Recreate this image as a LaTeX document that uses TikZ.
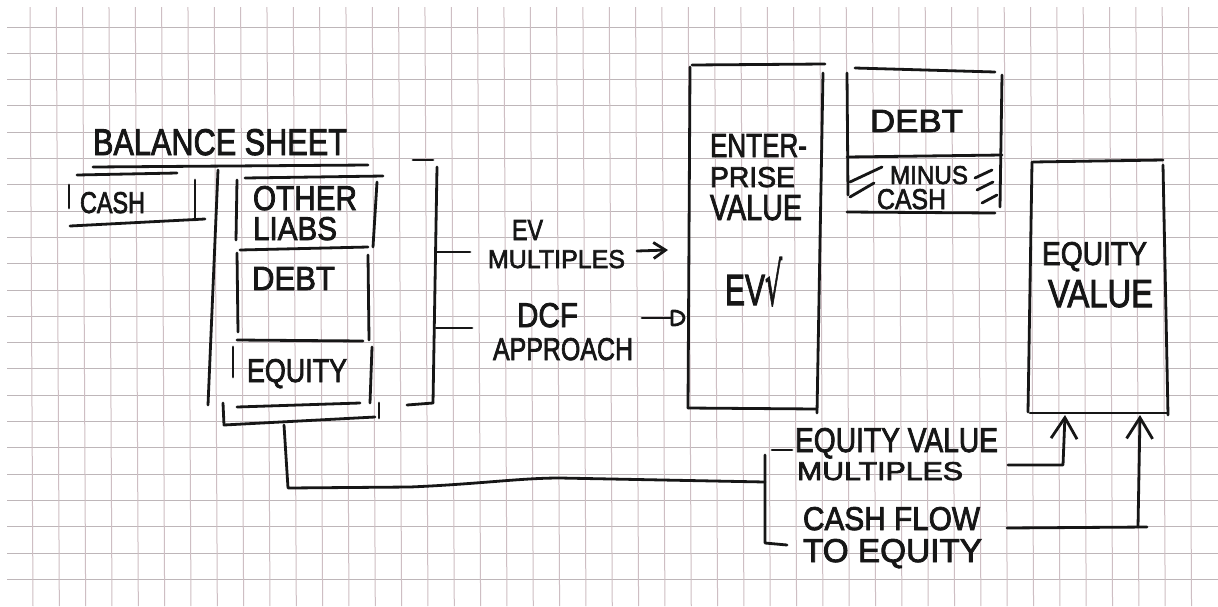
\documentclass[tikz,border=0pt]{standalone}
\usepackage{graphicx}
\usepackage{fontspec}
\setmainfont{Liberation Sans}[FakeBold=2.5]
\newfontfamily\dvsans{DejaVu Sans}[FakeBold=2]
\usetikzlibrary{arrows.meta}

% hand lettering: text squeezed into a box of given width and cap height
\newcommand\handtext[3]{\resizebox{#1pt}{#2pt}{#3}}

\definecolor{inkc}{RGB}{22,22,22}
\definecolor{hgridc}{RGB}{190,182,185}
\definecolor{vgridc}{RGB}{206,190,195}

\tikzset{
  ink/.style={draw=inkc, line width=2.8pt, line cap=round, line join=round},
  hgrid/.style={draw=hgridc, line width=1pt},
  vgrid/.style={draw=vgridc, line width=1pt},
  lbl/.style={inner sep=0pt, outer sep=0pt, anchor=north west, text=inkc},
  barb/.style={-{Straight Barb[length=12pt,width=16pt]}},
  upbarb/.style={-{Straight Barb[length=21pt,width=26pt]}},
}

\begin{document}
\begin{tikzpicture}[x=1pt, y=-1pt]
  \useasboundingbox (0,0) rectangle (1218,606);
  \fill[white] (0,0) rectangle (1218,606);

  % squared paper
  \foreach \k in {0,...,21}
    \draw[hgrid] (7,27+26.3*\k) -- (1218,27+26.3*\k);
  \foreach \k in {0,...,44}
    \draw[vgrid] (30+26.33*\k,7) -- (33+26.33*\k,606);

  % ---------------- balance sheet ----------------
  \node[lbl] (bs-title) at (93,129) {\handtext{254}{26}{BALANCE SHEET}};
  \draw[ink] (93,167) -- (368,165);

  % cash (asset side)
  \node[lbl] (bs-cash) at (80,192) {\handtext{65}{21}{CASH}};
  \draw[ink] (77,175) -- (177,173);
  \draw[ink] (69,185) -- (69,208);
  \draw[ink] (195,180) -- (195,220);
  \draw[ink] (70,226) -- (205,219);

  % liabilities column frame
  \draw[ink] (218,170) -- (208,405);
  \draw[ink] (223,403) -- (224,425) -- (375,417);
  \draw[ink] (379,403) -- (379,418);

  % other liabilities
  \node[lbl] (bs-other) at (253,186) {\handtext{104}{24}{OTHER}};
  \node[lbl] (bs-liabs) at (253,217) {\handtext{84}{23}{LIABS}};
  \draw[ink] (245,178) -- (383,176);
  \draw[ink] (237,180) -- (236,240);
  \draw[ink] (377,182) -- (373,247);
  \draw[ink] (240,250) -- (368,247);

  % debt
  \node[lbl] (bs-debt) at (252,267) {\handtext{83}{23}{DEBT}};
  \draw[ink] (237,253) -- (238,332);
  \draw[ink] (368,255) -- (369,340);
  \draw[ink] (237,340) -- (363,341);

  % equity
  \node[lbl] (bs-equity) at (247,359) {\handtext{100}{23}{EQUITY}};
  \draw[ink] (233,347) -- (233,377);
  \draw[ink] (372,347) -- (370,403);
  \draw[ink] (237,407) -- (360,403);

  % bracket grouping the financing side
  \draw[ink] (413,160) -- (433,160);
  \draw[ink] (437,167) -- (433,403);
  \draw[ink] (407,405) -- (433,403);
  \coordinate (br-top) at (437,252);
  \coordinate (br-bot) at (436,328);
  \coordinate (br-top-end) at (470,252);
  \coordinate (br-bot-end) at (472,328);
  \draw[ink] (br-top) -- (br-top-end);
  \draw[ink] (br-bot) -- (br-bot-end);

  % ---------------- methods towards EV ----------------
  \node[lbl] (m-ev) at (512,220) {\handtext{31}{20}{EV}};
  \node[lbl] (m-mult) at (488,250) {\handtext{137}{18}{MULTIPLES}};
  \node[lbl] (m-dcf) at (517,303) {\handtext{61}{24}{DCF}};
  \node[lbl] (m-appr) at (493,338) {\handtext{140}{22}{APPROACH}};

  \coordinate (mult-out) at (637,251);
  \coordinate (mult-in) at (668,250);
  \draw[ink, barb] (mult-out) -- (mult-in);

  \coordinate (dcf-out) at (642,318);
  \coordinate (dcf-in) at (672,318);
  \draw[ink] (dcf-out) -- (dcf-in);
  \draw[ink] (672,311) -- (672,325) .. controls (688,326) and (688,310) .. (672,311);

  % ---------------- enterprise value ----------------
  \draw[ink] (692,65) -- (825,64);
  \draw[ink] (690,67) -- (688,408);
  \draw[ink] (823,73) -- (817,413);
  \draw[ink] (688,408) -- (817,409);
  \node[lbl] (ev-l1) at (710,134) {\handtext{97}{23}{ENTER-}};
  \node[lbl] (ev-l2) at (710,167) {\handtext{85}{20}{PRISE}};
  \node[lbl] (ev-l3) at (710,195) {\handtext{92}{25}{VALUE}};
  \node[lbl] (ev-tick) at (725,257) {\handtext{40}{30}{EV}\handtext{17}{48}{\dvsans √}};

  % ---------------- debt minus cash ----------------
  \draw[ink] (855,68) -- (995,72);
  \draw[ink] (847,73) -- (848,195);
  \draw[ink] (1002,75) -- (1000,207);
  \draw[ink] (847,157) -- (1002,155);
  \draw[ink] (847,212) -- (995,213);
  \node[lbl] (nd-debt) at (870,110) {\handtext{93}{22}{DEBT}};
  \node[lbl] (nd-minus) at (890,166) {\handtext{78}{18}{MINUS}};
  \node[lbl] (nd-cash) at (877,189) {\handtext{69}{20}{CASH}};
  % hatching of the cash strip
  \draw[ink] (850,182) -- (882,167);
  \draw[ink] (850,197) -- (874,183);
  \draw[ink] (975,178) -- (992,170);
  \draw[ink] (977,190) -- (993,182);
  \draw[ink] (982,203) -- (997,195);

  % ---------------- equity value ----------------
  \draw[ink] (1033,162) -- (1163,160);
  \draw[ink] (1032,162) -- (1028,412);
  \draw[ink] (1163,165) -- (1168,415);
  \draw[ink] (1030,413) -- (1167,413);
  \node[lbl] (eq-l1) at (1042,242) {\handtext{105}{23}{EQUITY}};
  \node[lbl] (eq-l2) at (1048,280) {\handtext{105}{27}{VALUE}};

  % ---------------- methods towards equity value ----------------
  \node[lbl] (q-evm1) at (795,428) {\handtext{203}{24}{EQUITY VALUE}};
  \node[lbl] (q-evm2) at (797,462) {\handtext{166}{18}{MULTIPLES}};
  \node[lbl] (q-fte1) at (803,507) {\handtext{177}{23}{CASH FLOW}};
  \node[lbl] (q-fte2) at (803,539) {\handtext{179}{23}{TO EQUITY}};
  \draw[ink] (772,450) -- (792,450);

  % line from the balance sheet into the bracket
  \coordinate (bs-drop) at (284,425);
  \coordinate (br2-mid) at (765,482);
  \draw[ink] (bs-drop) -- (288,488) -- (410,487)
     .. controls (480,484) and (520,478) .. (560,478) -- (br2-mid);
  \draw[ink] (765,455) -- (765,543) -- (787,545);

  % arrows into the equity value box
  \coordinate (evm-out) at (1008,465);
  \coordinate (evm-in) at (1065,415);
  \draw[ink, upbarb] (evm-out) -- (1063,465) -- (evm-in);
  \coordinate (fte-out) at (1007,528);
  \coordinate (fte-in) at (1140,415);
  \draw[ink] (fte-out) -- (1147,527);
  \draw[ink, upbarb] (1138,527) -- (fte-in);
\end{tikzpicture}
\end{document}
